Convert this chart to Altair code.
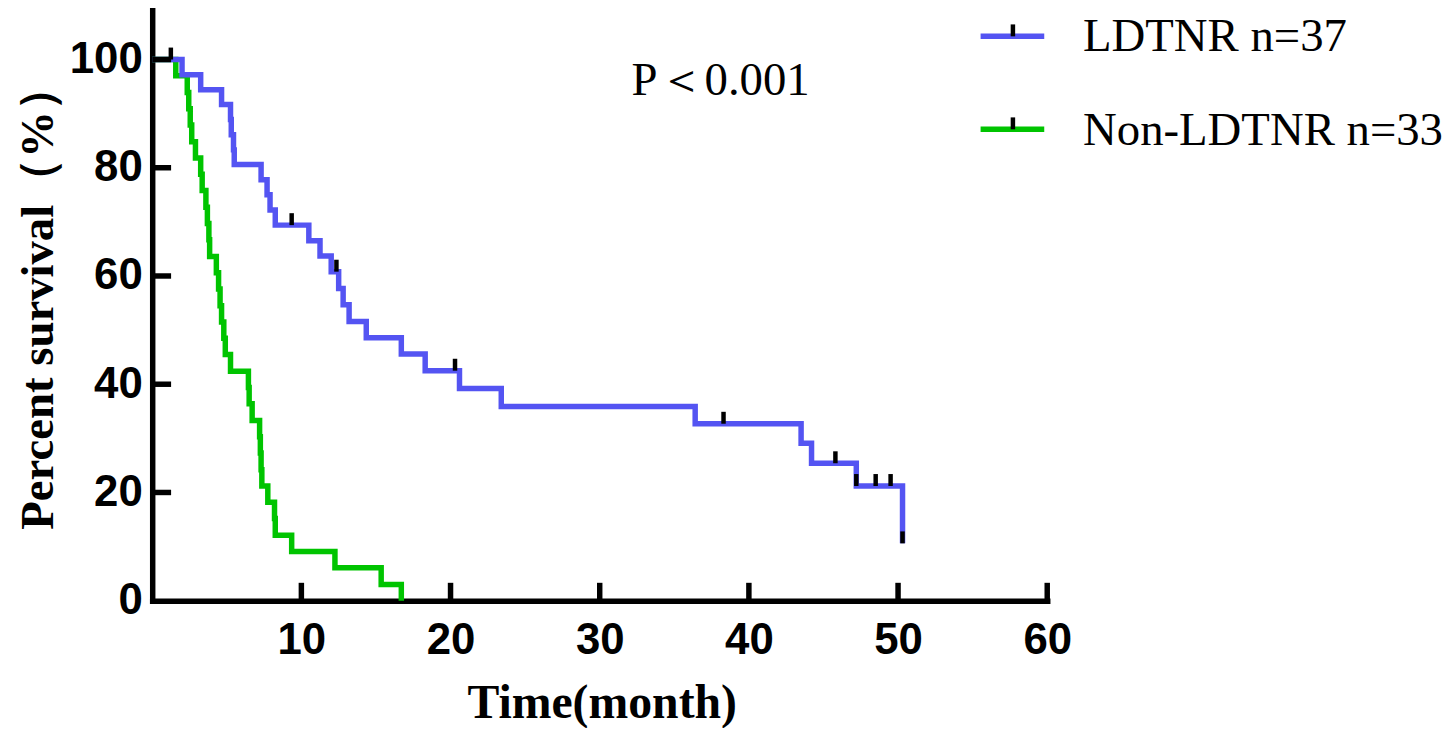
import altair as alt
import pandas as pd

# ---- data ----
blue_t = [0, 2.0, 3.25, 4.65, 5.25, 5.3, 5.45, 5.5, 7.3, 7.7, 7.9, 8.25, 10.5, 11.25, 12.0,
          12.5, 12.8, 13.2, 14.35, 16.7, 18.3, 20.6, 23.4, 36.4, 43.5, 44.2, 47.2, 50.3]
blue_s = [100, 97.2, 94.4, 91.7, 88.9, 86.1, 83.3, 80.6, 77.8, 75.0, 72.2, 69.4, 66.5, 63.7, 60.8,
          57.7, 54.7, 51.6, 48.6, 45.6, 42.5, 39.2, 35.9, 32.7, 29.1, 25.4, 21.2, 10.6]

green_t = [0, 1.58, 2.35, 2.45, 2.55, 2.65, 2.9, 3.25, 3.35, 3.6, 3.7, 3.8, 3.85, 4.3, 4.45, 4.55,
           4.65, 4.8, 4.9, 5.25, 6.45, 6.5, 6.7, 7.2, 7.25, 7.3, 7.35, 7.75, 8.2, 8.25, 9.35,
           12.25, 15.35, 16.7]
green_s = [100, 97.0, 93.9, 90.9, 87.9, 84.8, 81.8, 78.8, 75.8, 72.7, 69.7, 66.7, 63.6, 60.6, 57.6,
           54.5, 51.5, 48.5, 45.5, 42.4, 39.4, 36.4, 33.3, 30.3, 27.3, 24.2, 21.2, 18.2, 15.2, 12.1,
           9.1, 6.1, 3.0, 0]

cens_t = [1.25, 9.35, 12.35, 20.3, 38.3, 45.8, 47.2, 48.5, 49.5, 50.3]
cens_s = [100, 69.4, 60.8, 42.5, 32.7, 25.4, 21.2, 21.2, 21.2, 10.6]

x_ticks = [10, 20, 30, 40, 50, 60]
y_ticks = [0, 20, 40, 60, 80, 100]
legend_labels = ["LDTNR n=37", "Non-LDTNR n=33"]
p_text = ["P\uff1c0.001"]

BLUE = "#5454F2"
GREEN = "#00C400"
W, H = 900, 594

xscale = alt.Scale(domain=[0, 60], nice=False, zero=False)
yscale = alt.Scale(domain=[0, 109.15], nice=False, zero=False)

xaxis = alt.Axis(values=x_ticks, ticks=False, grid=False, domainColor="black", domainWidth=5.5,
                 domainCap="square", labelFont="Liberation Sans", labelFontWeight="bold",
                 labelFontSize=44, labelColor="black", labelPadding=18,
                 title="Time(month)", titleFont="Liberation Serif", titleFontWeight="bold",
                 titleFontSize=48, titleColor="black", titleX=452, titleY=117,
                 titleAlign="center", titleBaseline="alphabetic", labelFlush=False)
yaxis = alt.Axis(values=y_ticks, ticks=False, grid=False, domainColor="black", domainWidth=5.5,
                 domainCap="square", labelFont="Liberation Sans", labelFontWeight="bold",
                 labelFontSize=44, labelColor="black", labelPadding=10,
                 title="Percent survival\uff08%\uff09", titleFont="Liberation Serif",
                 titleFontWeight="bold", titleFontSize=47, titleColor="black",
                 titleX=-100, titleY=288, titleAngle=270, titleAlign="center",
                 titleBaseline="alphabetic", labelFlush=False)


def X(f):
    return alt.X(f, type="quantitative", scale=xscale, axis=xaxis)


def Y(f):
    return alt.Y(f, type="quantitative", scale=yscale, axis=yaxis)


blue_df = pd.DataFrame({"t": blue_t, "s": blue_s})
green_df = pd.DataFrame({"t": green_t, "s": green_s})
cens_df = pd.DataFrame({"t": cens_t, "s": cens_s})
xt_df = pd.DataFrame({"t": x_ticks})
yt_df = pd.DataFrame({"s": [v for v in y_ticks if v > 0]})

green_line = alt.Chart(green_df).mark_line(
    interpolate="step-after", color=GREEN, strokeWidth=5.5, strokeJoin="miter", strokeCap="butt"
).encode(x=X("t"), y=Y("s"))

blue_line = alt.Chart(blue_df).mark_line(
    interpolate="step-after", color=BLUE, strokeWidth=5.5, strokeJoin="miter", strokeCap="butt"
).encode(x=X("t"), y=Y("s"))

cens = alt.Chart(cens_df).mark_tick(
    orient="vertical", color="black", thickness=4.5, size=12, yOffset=-6, opacity=1
).encode(x=X("t"), y=Y("s"))

xt = alt.Chart(xt_df).mark_rule(color="black", strokeWidth=5.5).encode(
    x=X("t"), y=alt.value(H), y2=alt.value(H - 18)
)
yt = alt.Chart(yt_df).mark_rule(color="black", strokeWidth=5.5).encode(
    y=Y("s"), x=alt.value(0), x2=alt.value(19)
)

ptext = alt.Chart(pd.DataFrame({"label": p_text})).mark_text(
    font="Liberation Serif", fontSize=47, color="black", align="left", baseline="alphabetic"
).encode(text="label:N", x=alt.value(482), y=alt.value(85))

layers = [green_line, blue_line, cens, xt, yt, ptext]

leg_colors = [BLUE, GREEN]
leg_line_y = [26.5, 120]
leg_text_y = [41.3, 135.3]
for i, lab in enumerate(legend_labels):
    d = pd.DataFrame({"label": [lab]})
    layers.append(alt.Chart(d).mark_rule(color=leg_colors[i], strokeWidth=5.5).encode(
        x=alt.value(833), x2=alt.value(897), y=alt.value(leg_line_y[i])))
    layers.append(alt.Chart(d).mark_rule(color="black", strokeWidth=4.5).encode(
        x=alt.value(865.5), y=alt.value(leg_line_y[i] - 12), y2=alt.value(leg_line_y[i])))
    layers.append(alt.Chart(d).mark_text(
        font="Liberation Serif", fontSize=47, color="black", align="left", baseline="alphabetic"
    ).encode(text="label:N", x=alt.value(936), y=alt.value(leg_text_y[i])))

chart = alt.layer(*layers).properties(
    width=W, height=H,
    autosize=alt.AutoSizeParams(type="none"),
    padding={"left": 145, "top": 0, "right": 403, "bottom": 126},
    background="white",
).configure_view(stroke=None)

chart.save("out.html", embed_options={"renderer": "svg", "actions": False})
